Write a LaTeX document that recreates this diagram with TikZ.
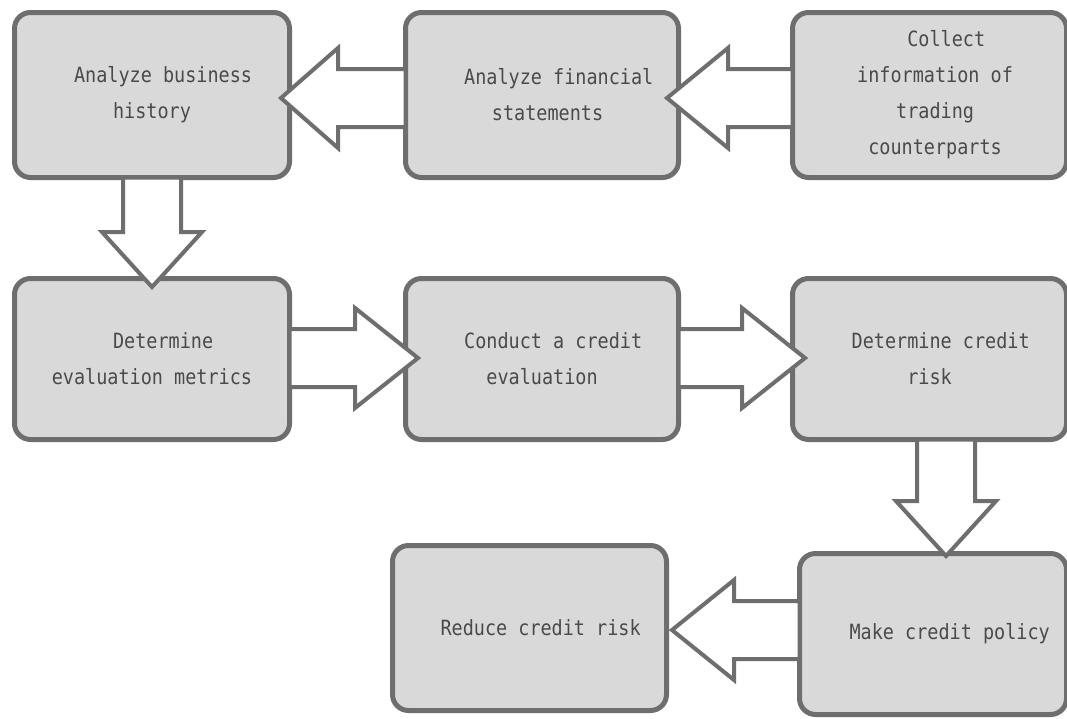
\documentclass[tikz,border=0pt]{standalone}
\usepackage{fontspec}
\newfontfamily\boxfont[FakeStretch=0.88]{DejaVu Sans Mono}
\usetikzlibrary{calc}

\definecolor{boxline}{HTML}{6E6E6E}
\definecolor{boxfill}{HTML}{D9D9D9}
\definecolor{boxtext}{HTML}{4A4A4A}

\tikzset{
  stepbox/.style={draw=boxline, fill=boxfill, line width=5pt, rounded corners=16pt,
    outer sep=0pt, inner sep=0pt, align=center, text=boxtext,
    font={\boxfont\fontsize{21}{36}\selectfont}},
  flowarrow/.style={draw=boxline, fill=white, line width=4pt, line join=miter}
}

% hollow block arrow: #1 start of shaft, #2 tip, #3 head length
\newcommand{\blockarrow}[3]{%
  \coordinate (hb) at ($(#2)!#3!(#1)$);
  \draw[flowarrow] ($(#1)!29pt!90:(#2)$) -- ($(hb)!29pt!-90:(#1)$) -- ($(hb)!50pt!-90:(#1)$)
    -- (#2) -- ($(hb)!50pt!90:(#1)$) -- ($(hb)!29pt!90:(#1)$) -- ($(#1)!29pt!-90:(#2)$) -- cycle;
}

\begin{document}
\begin{tikzpicture}[x=1pt,y=-1pt]

\clip (0,0) rectangle (1067,718);
\fill[white] (0,0) rectangle (1067,718);

% boxes
\node[stepbox, minimum width=275pt, minimum height=165pt] (A) at (152,95) {~~Analyze business\\history};
\node[stepbox, minimum width=273pt, minimum height=165pt] (B) at (542,95) {~~~Analyze financial\\~statements};
\node[stepbox, minimum width=274pt, minimum height=165pt] (C) at (929.5,95) {~~~Collect\\~information of\\~trading\\~counterparts};
\node[stepbox, minimum width=275pt, minimum height=161pt] (D) at (152,359) {~~Determine\\evaluation metrics};
\node[stepbox, minimum width=273pt, minimum height=161pt] (E) at (542,359) {~~Conduct a credit\\evaluation};
\node[stepbox, minimum width=274pt, minimum height=161pt] (F) at (929.5,359) {~~Determine credit\\risk};
\node[stepbox, minimum width=274pt, minimum height=165pt] (G) at (529.5,628) {~~Reduce credit risk};
\node[stepbox, minimum width=267pt, minimum height=161pt] (H) at (933,634) {~~~Make credit policy};

% arrows
\coordinate (t1) at ($(A.east)+(-8.5,3)$);
\blockarrow{B.west|-t1}{t1}{57pt}
\coordinate (t2) at ($(B.east)+(-11.5,3)$);
\blockarrow{C.west|-t2}{t2}{61pt}
%%
\coordinate (t3) at ($(D.north)+(0,8.5)$);
\blockarrow{t3|-A.south}{t3}{55pt}
%%
\coordinate (t4) at ($(E.west)+(12.5,-1)$);
\blockarrow{D.east|-t4}{t4}{63pt}
\coordinate (t5) at ($(F.west)+(12.5,-1)$);
\blockarrow{E.east|-t5}{t5}{63pt}
%%
\coordinate (t6) at ($(H.north)+(13,2.5)$);
\blockarrow{t6|-F.south}{t6}{55pt}
\coordinate (t7) at ($(G.east)+(5.5,2)$);
\blockarrow{H.west|-t7}{t7}{62pt}

\end{tikzpicture}
\end{document}
